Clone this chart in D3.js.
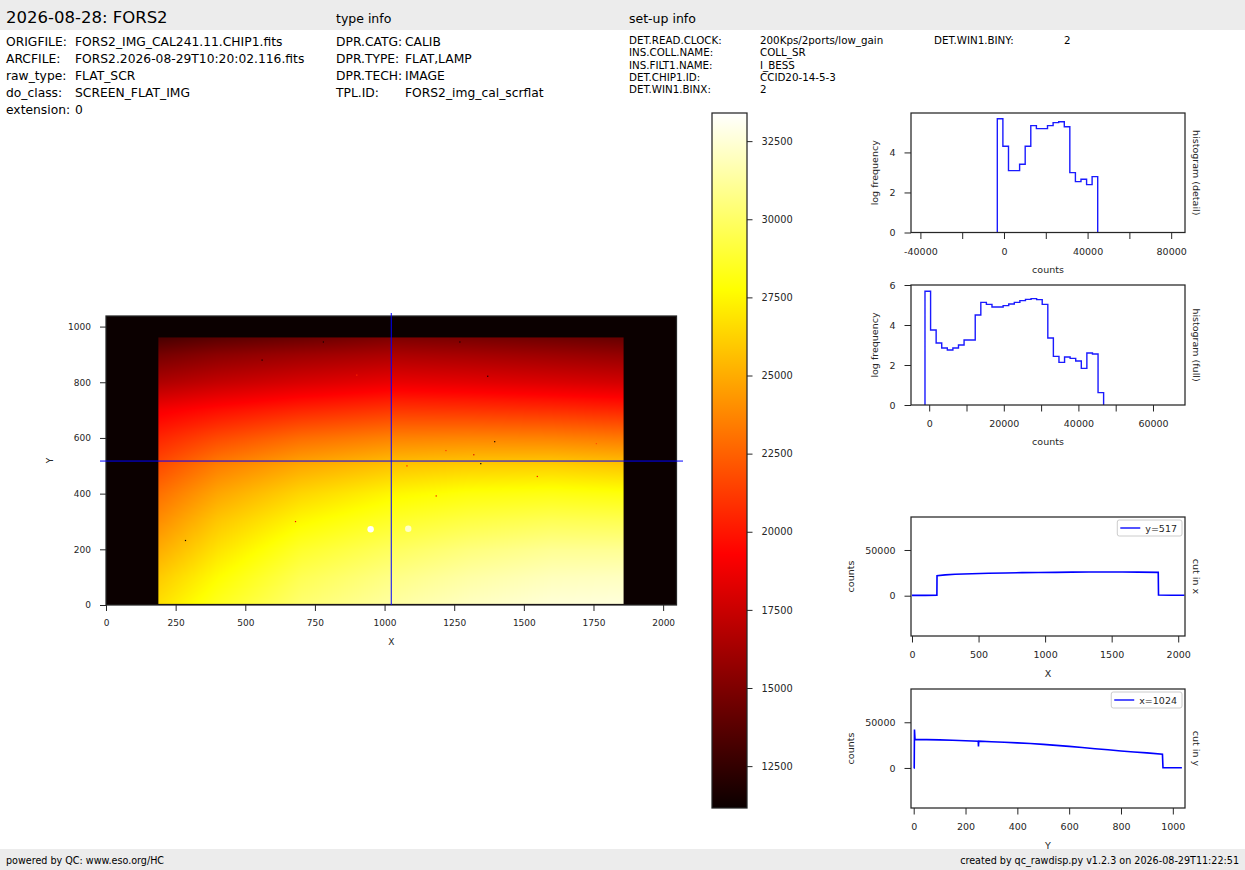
<!DOCTYPE html>
<html>
<head>
<meta charset="utf-8">
<script src="https://cdn.jsdelivr.net/npm/d3@7"></script>
<style>
  body { margin: 0; background: #fff; }
  svg text { font-family: "DejaVu Sans", sans-serif; fill: #000; }
</style>
</head>
<body>
<svg id="chart" width="1245" height="870"></svg>
<script>
// ---- header text ----
const titleText = "2026-08-28: FORS2"
const fileLabels = ["ORIGFILE:", "ARCFILE:", "raw_type:", "do_class:", "extension:"]
const fileValues = ["FORS2_IMG_CAL241.11.CHIP1.fits", "FORS2.2026-08-29T10:20:02.116.fits", "FLAT_SCR", "SCREEN_FLAT_IMG", "0"]
const typeLabels = ["DPR.CATG:", "DPR.TYPE:", "DPR.TECH:", "TPL.ID:"]
const typeValues = ["CALIB", "FLAT,LAMP", "IMAGE", "FORS2_img_cal_scrflat"]
const setupLabels = ["DET.READ.CLOCK:", "INS.COLL.NAME:", "INS.FILT1.NAME:", "DET.CHIP1.ID:", "DET.WIN1.BINX:"]
const setupValues = ["200Kps/2ports/low_gain", "COLL_SR", "I_BESS", "CCID20-14-5-3", "2"]
const setupLabels2 = ["DET.WIN1.BINY:"]
const setupValues2 = ["2"]
const footerLeft = "powered by QC: www.eso.org/HC"
const footerRight = "created by qc_rawdisp.py v1.2.3 on 2026-08-29T11:22:51"

// ---- raw image (coarse grid, counts) ----
const imgSize = [2048, 1038]
const imgCols = [188, 400, 700, 1024, 1300, 1600, 1858]
const imgRows = [4, 100, 200, 300, 400, 500, 600, 700, 800, 900, 961]
const imgValues = [
  [26700, 28400, 30200, 31300, 32000, 32500, 32600],
  [26000, 27700, 29600, 30700, 31400, 31900, 32000],
  [25000, 26800, 28700, 29800, 30500, 31000, 31000],
  [24000, 25900, 27600, 28700, 29300, 29700, 29600],
  [23000, 24800, 26400, 27500, 28000, 28200, 28000],
  [21800, 23500, 24900, 25800, 26100, 26200, 25900],
  [20500, 21700, 22900, 23600, 23700, 23600, 23300],
  [19000, 19700, 20500, 21100, 21000, 20800, 20500],
  [16600, 17300, 18000, 18600, 18400, 18100, 17800],
  [14700, 15400, 16000, 16500, 16300, 16000, 15700],
  [13200, 13800, 14300, 15000, 14800, 14500, 14200]
]
const blobX = [950, 1085]
const blobY = [272, 274]
const blobV = [33400, 32200]
const speckX = [560, 1370, 1395, 1345, 1320, 1548, 680, 1185, 900, 285, 1220, 780, 1760, 1080, 1270, 1705]
const speckY = [880, 822, 587, 508, 540, 462, 300, 392, 826, 232, 555, 945, 580, 500, 945, 762]
const speckV = [11200, 11200, 11200, 11200, 18000, 19500, 19000, 19500, 20500, 11200, 21000, 11200, 22000, 20000, 11200, 19000]
const crossX = 1024
const crossY = 517
const colorMin = 11160
const colorMax = 33400
const colorTicks = [12500, 15000, 17500, 20000, 22500, 25000, 27500, 30000, 32500]

// ---- histograms (log frequency per bin) ----
const detailEdges = [-3200, -530, 2150, 4800, 7470, 10140, 12820, 15500, 18150, 20820, 23500, 26170, 28850, 31500, 34170, 36840, 39520, 42160, 44840]
const detailLogFreq = [5.68, 4.31, 3.09, 3.09, 3.41, 4.31, 5.34, 5.19, 5.19, 5.34, 5.49, 5.53, 5.28, 2.99, 2.54, 2.66, 2.39, 2.79]
const fullEdges = [-1130, 370, 1860, 3360, 4860, 6350, 7850, 9350, 10840, 12340, 13840, 15330, 16830, 18330, 19820, 21320, 22820, 24310, 25810, 27310, 28800, 30300, 31800, 33290, 34790, 36290, 37780, 39280, 40780, 42270, 43770, 45270, 46760]
const fullLogFreq = [5.69, 3.75, 3.10, 2.85, 2.75, 2.85, 3.00, 3.25, 3.25, 4.50, 5.13, 5.03, 4.90, 4.90, 4.97, 5.05, 5.13, 5.22, 5.28, 5.32, 5.27, 5.03, 3.35, 2.43, 2.13, 2.40, 2.33, 2.20, 1.83, 2.60, 2.55, 0.62]

// ---- cuts ----
const cutXPos = [0, 100, 187, 188, 250, 324, 450, 575, 700, 827, 950, 1078, 1200, 1329, 1450, 1580, 1700, 1850, 1852, 1950, 2047]
const cutXCounts = [400, 400, 450, 21900, 22800, 23400, 24000, 24500, 24900, 25200, 25400, 25550, 25750, 25900, 25950, 25900, 25800, 25550, 700, 500, 450]
const cutYPos = [0, 2, 3, 5, 50, 100, 150, 200, 249, 250, 251, 300, 350, 400, 450, 500, 550, 600, 650, 700, 750, 800, 850, 900, 960, 962, 1000, 1035]
const cutYCounts = [0, 0, 42000, 31300, 31000, 30700, 30300, 29800, 29300, 23500, 29300, 28700, 28100, 27500, 26700, 25800, 24700, 23600, 22400, 21100, 19900, 18600, 17500, 16500, 15000, 300, 200, 200]

const inkColor = "#262626"
const lineBlue = "#1a1aff"

const svg = d3.select("#chart")

// header / footer bars
svg.append("rect").attr("x", 0).attr("y", 0).attr("width", 1245).attr("height", 30).attr("fill", "#ececec")
svg.append("rect").attr("x", 0).attr("y", 849).attr("width", 1245).attr("height", 21).attr("fill", "#ececec")

svg.append("text").attr("x", 6).attr("y", 23).attr("font-size", 16.5).text(titleText)
svg.append("text").attr("x", 336).attr("y", 23).attr("font-size", 12.5).text("type info")
svg.append("text").attr("x", 629).attr("y", 23).attr("font-size", 12.5).text("set-up info")

const fileRowY = [46, 63, 80, 97, 114]
fileLabels.forEach((t, i) => {
  svg.append("text").attr("x", 6).attr("y", fileRowY[i]).attr("font-size", 12.3).text(t)
  svg.append("text").attr("x", 75).attr("y", fileRowY[i]).attr("font-size", 12.3).text(fileValues[i])
})
typeLabels.forEach((t, i) => {
  svg.append("text").attr("x", 336).attr("y", fileRowY[i]).attr("font-size", 12.3).text(t)
  svg.append("text").attr("x", 405).attr("y", fileRowY[i]).attr("font-size", 12.3).text(typeValues[i])
})
const setupRowY = [44, 56.3, 68.6, 80.9, 93.2]
setupLabels.forEach((t, i) => {
  svg.append("text").attr("x", 629).attr("y", setupRowY[i]).attr("font-size", 10.3).text(t)
  svg.append("text").attr("x", 760).attr("y", setupRowY[i]).attr("font-size", 10.3).text(setupValues[i])
})
setupLabels2.forEach((t, i) => {
  svg.append("text").attr("x", 934).attr("y", setupRowY[i]).attr("font-size", 10.3).text(t)
  svg.append("text").attr("x", 1064).attr("y", setupRowY[i]).attr("font-size", 10.3).text(setupValues2[i])
})

svg.append("text").attr("x", 6).attr("y", 864).attr("font-size", 9.6).text(footerLeft)
svg.append("text").attr("x", 1239).attr("y", 864).attr("font-size", 9.6).attr("text-anchor", "end").text(footerRight)

// hot colormap
const hot = d3.scaleLinear()
  .domain([0, 0.365079, 0.746032, 1].map(t => colorMin + t * (colorMax - colorMin)))
  .range(["#0b0000", "#ff0000", "#ffff00", "#ffffff"])
  .clamp(true)

// generic axes helper
function styleAxis(g, fs) {
  g.select(".domain").remove()
  g.selectAll(".tick line").attr("stroke", inkColor).attr("stroke-width", 1)
  g.selectAll(".tick text").attr("font-size", fs).style("fill", inkColor)
  g.attr("font-family", null).attr("font-size", null)
}

function drawPanel(p) {
  const xs = d3.scaleLinear().domain(p.xDomain).range([p.left, p.right])
  const ys = d3.scaleLinear().domain(p.yDomain).range([p.bottom, p.top])
  const g = svg.append("g")
  const clipId = "clip" + Math.round(p.left) + "_" + Math.round(p.top)
  g.append("clipPath").attr("id", clipId).append("rect")
    .attr("x", p.left).attr("y", p.top).attr("width", p.right - p.left).attr("height", p.bottom - p.top)
  const inner = g.append("g").attr("clip-path", `url(#${clipId})`)
  const fmt = p.xFormat || (d => String(d))
  const xa = g.append("g").attr("transform", `translate(0,${p.bottom})`)
    .call(d3.axisBottom(xs).tickValues(p.xTicks).tickFormat(fmt).tickSize(p.tick).tickPadding(p.pad))
  styleAxis(xa, p.fs)
  const ya = g.append("g").attr("transform", `translate(${p.left},0)`)
    .call(d3.axisLeft(ys).tickValues(p.yTicks).tickFormat(d => String(d)).tickSize(p.tick).tickPadding(p.pad))
  styleAxis(ya, p.fs)
  const cx = (p.left + p.right) / 2, cy = (p.top + p.bottom) / 2
  g.append("text").attr("x", cx).attr("y", p.xLabelY).attr("text-anchor", "middle")
    .attr("font-size", p.fs).style("fill", inkColor).text(p.xLabel)
  g.append("text").attr("transform", `translate(${p.yLabelX},${cy}) rotate(-90)`).attr("text-anchor", "middle")
    .attr("font-size", p.fs).style("fill", inkColor).text(p.yLabel)
  if (p.side) {
    g.append("text").attr("transform", `translate(${p.right + 8},${cy}) rotate(90)`).attr("text-anchor", "middle")
      .attr("font-size", p.fs).style("fill", inkColor).text(p.side)
  }
  return { g, inner, xs, ys, frame: () => g.append("rect")
    .attr("x", p.left).attr("y", p.top).attr("width", p.right - p.left).attr("height", p.bottom - p.top)
    .attr("fill", "none").attr("stroke", inkColor).attr("stroke-width", 1.25) }
}

// ---- image panel ----
const imgPanel = drawPanel({
  left: 106, right: 676.5, top: 316, bottom: 605,
  xDomain: [0, imgSize[0]], yDomain: [0, imgSize[1]],
  xTicks: d3.range(0, 2001, 250), yTicks: d3.range(0, 1001, 200),
  tick: 6, pad: 9, fs: 9, xLabel: "X", xLabelY: 645, yLabel: "Y", yLabelX: 53
})
{
  const { inner, xs, ys } = imgPanel
  inner.append("rect").attr("x", xs(0)).attr("y", ys(imgSize[1]))
    .attr("width", xs(imgSize[0]) - xs(0)).attr("height", ys(0) - ys(imgSize[1]))
    .attr("fill", hot(0))
  const x0 = xs(imgCols[0]), x1 = xs(imgCols[imgCols.length - 1])
  const y0 = ys(imgRows[imgRows.length - 1]), y1 = ys(imgRows[0])
  const scaleF = 2
  const W = Math.round((x1 - x0) * scaleF), H = Math.round((y1 - y0) * scaleF)
  const canvas = document.createElement("canvas")
  canvas.width = W; canvas.height = H
  const ctx = canvas.getContext("2d")
  const imgData = ctx.createImageData(W, H)
  const colIdx = d3.scaleLinear().domain(imgCols).range(d3.range(imgCols.length)).clamp(true)
  const rowIdx = d3.scaleLinear().domain(imgRows).range(d3.range(imgRows.length)).clamp(true)
  for (let py = 0; py < H; py++) {
    const v = ys.invert(y0 + (py + 0.5) / scaleF)
    const ri = rowIdx(v)
    const r0 = Math.min(Math.floor(ri), imgRows.length - 2), fr = ri - r0
    for (let px = 0; px < W; px++) {
      const u = xs.invert(x0 + (px + 0.5) / scaleF)
      const ci = colIdx(u)
      const c0 = Math.min(Math.floor(ci), imgCols.length - 2), fc = ci - c0
      const val = imgValues[r0][c0] * (1 - fc) * (1 - fr) + imgValues[r0][c0 + 1] * fc * (1 - fr)
        + imgValues[r0 + 1][c0] * (1 - fc) * fr + imgValues[r0 + 1][c0 + 1] * fc * fr
      const c = d3.rgb(hot(val))
      const k = (py * W + px) * 4
      imgData.data[k] = c.r; imgData.data[k + 1] = c.g; imgData.data[k + 2] = c.b; imgData.data[k + 3] = 255
    }
  }
  ctx.putImageData(imgData, 0, 0)
  inner.append("image").attr("x", x0).attr("y", y0).attr("width", x1 - x0).attr("height", y1 - y0)
    .attr("preserveAspectRatio", "none").attr("href", canvas.toDataURL())

  inner.selectAll(".blob").data(blobX).join("circle")
    .attr("cx", (d, i) => xs(d)).attr("cy", (d, i) => ys(blobY[i]))
    .attr("r", 3.2).attr("fill", (d, i) => hot(blobV[i]))
  inner.selectAll(".speck").data(speckX).join("rect")
    .attr("x", (d, i) => xs(d) - 0.5).attr("y", (d, i) => ys(speckY[i]) - 0.5)
    .attr("width", 1.2).attr("height", 1.2).attr("fill", (d, i) => hot(speckV[i]))

  // cross-hair of the cuts
  svg.append("line").attr("x1", xs(crossX)).attr("x2", xs(crossX)).attr("y1", 313).attr("y2", ys(0))
    .attr("stroke", "#0000ff").attr("stroke-width", 1)
  svg.append("line").attr("x1", 100).attr("x2", 683).attr("y1", ys(crossY)).attr("y2", ys(crossY))
    .attr("stroke", "#0000ff").attr("stroke-width", 1)
  imgPanel.frame()
}

// ---- colorbar ----
{
  const cbLeft = 712, cbRight = 747, cbTop = 113, cbBottom = 808
  const cs = d3.scaleLinear().domain([colorMin, colorMax]).range([cbBottom, cbTop])
  const grad = svg.append("defs").append("linearGradient").attr("id", "hotgrad")
    .attr("x1", 0).attr("y1", 1).attr("x2", 0).attr("y2", 0)
  hot.domain().forEach(v => {
    grad.append("stop").attr("offset", (v - colorMin) / (colorMax - colorMin)).attr("stop-color", hot(v))
  })
  svg.append("rect").attr("x", cbLeft).attr("y", cbTop).attr("width", cbRight - cbLeft).attr("height", cbBottom - cbTop)
    .attr("fill", "url(#hotgrad)").attr("stroke", inkColor).attr("stroke-width", 1.25)
  const ca = svg.append("g").attr("transform", `translate(${cbRight},0)`)
    .call(d3.axisRight(cs).tickValues(colorTicks).tickFormat(d => String(d)).tickSize(5.5).tickPadding(9))
  styleAxis(ca, 9.8)
}

// ---- histograms ----
function stepPoints(edges, vals) {
  const pts = [[edges[0], 0]]
  vals.forEach((v, i) => pts.push([edges[i], v]))
  pts.push([edges[edges.length - 1], 0])
  return pts
}

const histDetail = drawPanel({
  left: 911, right: 1185, top: 113, bottom: 232.5,
  xDomain: [-44500, 86610], yDomain: [0, 5.97],
  xTicks: d3.range(-40000, 80001, 20000), xFormat: d => (d % 40000 === 0 ? String(d) : ""),
  yTicks: [0, 2, 4], tick: 6.5, pad: 9, fs: 9.5,
  xLabel: "counts", xLabelY: 273, yLabel: "log frequency", yLabelX: 878, side: "histogram (detail)"
})
histDetail.inner.append("path")
  .attr("d", d3.line().x(d => histDetail.xs(d[0])).y(d => histDetail.ys(d[1])).curve(d3.curveStepAfter)(stepPoints(detailEdges, detailLogFreq)))
  .attr("fill", "none").attr("stroke", lineBlue).attr("stroke-width", 1.4)
histDetail.frame()

const histFull = drawPanel({
  left: 911, right: 1185, top: 285, bottom: 405,
  xDomain: [-4880, 68580], yDomain: [0, 6],
  xTicks: d3.range(0, 60001, 10000), xFormat: d => (d % 20000 === 0 ? String(d) : ""),
  yTicks: [0, 2, 4, 6], tick: 6.5, pad: 9, fs: 9.5,
  xLabel: "counts", xLabelY: 445, yLabel: "log frequency", yLabelX: 878, side: "histogram (full)"
})
histFull.inner.append("path")
  .attr("d", d3.line().x(d => histFull.xs(d[0])).y(d => histFull.ys(d[1])).curve(d3.curveStepAfter)(stepPoints(fullEdges, fullLogFreq)))
  .attr("fill", "none").attr("stroke", lineBlue).attr("stroke-width", 1.4)
histFull.frame()

// ---- cuts ----
function legend(panel, right, top, label) {
  const g = svg.append("g")
  const txt = g.append("text").attr("font-size", 9.5).style("fill", inkColor).text(label)
  const tw = txt.node().getComputedTextLength()
  const boxW = tw + 33, boxH = 16
  const bx = right - 3 - boxW, by = top + 3
  g.insert("rect", "text").attr("x", bx).attr("y", by).attr("width", boxW).attr("height", boxH)
    .attr("rx", 2).attr("fill", "#fff").attr("fill-opacity", 0.8).attr("stroke", "#cccccc").attr("stroke-width", 1)
  g.append("line").attr("x1", bx + 3).attr("x2", bx + 23).attr("y1", by + 8).attr("y2", by + 8)
    .attr("stroke", lineBlue).attr("stroke-width", 1.5)
  txt.attr("x", bx + 28).attr("y", by + 11.7)
}

const cutX = drawPanel({
  left: 911, right: 1185, top: 517, bottom: 636,
  xDomain: [-7.5, 2051], yDomain: [-44100, 86100],
  xTicks: d3.range(0, 2001, 500), yTicks: [0, 50000], tick: 6.5, pad: 9, fs: 9.5,
  xLabel: "X", xLabelY: 677, yLabel: "counts", yLabelX: 854, side: "cut in x"
})
cutX.inner.append("path")
  .attr("d", d3.line().x((d, i) => cutX.xs(d)).y((d, i) => cutX.ys(cutXCounts[i]))(cutXPos))
  .attr("fill", "none").attr("stroke", "#0000ff").attr("stroke-width", 1.6)
cutX.frame()
legend(cutX, 1185, 517, "y=" + crossY)

const cutY = drawPanel({
  left: 911, right: 1185, top: 689, bottom: 808,
  xDomain: [-10.4, 1047], yDomain: [-43800, 86400],
  xTicks: d3.range(0, 1001, 200), yTicks: [0, 50000], tick: 6.5, pad: 9, fs: 9.5,
  xLabel: "Y", xLabelY: 849, yLabel: "counts", yLabelX: 854, side: "cut in y"
})
cutY.inner.append("path")
  .attr("d", d3.line().x((d, i) => cutY.xs(d)).y((d, i) => cutY.ys(cutYCounts[i]))(cutYPos))
  .attr("fill", "none").attr("stroke", "#0000ff").attr("stroke-width", 1.6)
cutY.frame()
legend(cutY, 1185, 689, "x=" + crossX)
</script>
</body>
</html>
